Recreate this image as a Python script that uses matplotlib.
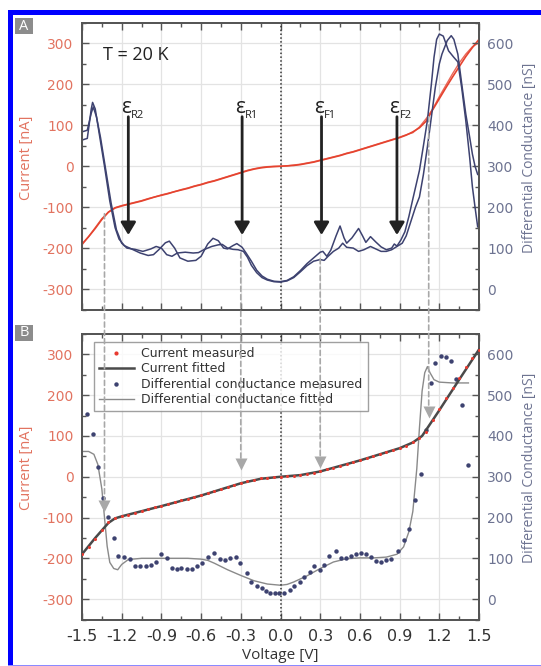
import matplotlib
matplotlib.use("Agg")
import matplotlib.pyplot as plt
from matplotlib.patches import Rectangle, ConnectionPatch
from matplotlib.lines import Line2D
from matplotlib.ticker import MultipleLocator, FixedLocator, FixedFormatter

# ---------------- data ----------------
volt = [-1.50, -1.45, -1.40, -1.35, -1.30, -1.25, -1.20, -1.15, -1.10, -1.05,
        -1.00, -0.95, -0.90, -0.85, -0.80, -0.75, -0.70, -0.65, -0.60, -0.55,
        -0.50, -0.45, -0.40, -0.35, -0.30, -0.25, -0.20, -0.15, -0.10, -0.05,
        0.00, 0.05, 0.10, 0.15, 0.20, 0.25, 0.30, 0.35, 0.40, 0.45,
        0.50, 0.55, 0.60, 0.65, 0.70, 0.75, 0.80, 0.85, 0.90, 0.95,
        1.00, 1.05, 1.10, 1.15, 1.20, 1.25, 1.30, 1.35, 1.40, 1.45, 1.50]
current_meas = [-190, -172, -152, -130, -112, -102, -97, -93, -89, -85,
                -80, -75, -71, -67, -62, -58, -54, -49, -45, -40,
                -36, -31, -26, -21, -16, -11, -7, -4, -2, -1,
                0, 1, 2, 4, 7, 10, 14, 18, 22, 26,
                31, 35, 40, 45, 50, 55, 60, 65, 70, 76,
                84, 94, 110, 138, 165, 192, 218, 243, 268, 290, 310]
current_sweep2 = [-192, -172, -150, -128, -112, -101, -96, -92, -88, -84,
                  -79, -75, -70, -66, -62, -57, -53, -48, -44, -39,
                  -35, -30, -25, -20, -15, -10, -6, -3, -1, 0,
                  0, 1, 3, 5, 8, 11, 15, 19, 23, 27,
                  32, 36, 41, 46, 51, 56, 61, 66, 71, 77,
                  82, 96, 116, 140, 170, 198, 226, 252, 274, 292, 302]

# conductance sweeps (panel A)
condA_v = [-1.49, -1.46, -1.43, -1.42, -1.40, -1.37, -1.33, -1.29, -1.25, -1.22,
           -1.18, -1.12, -1.06, -1.00, -0.96, -0.92, -0.87, -0.84, -0.80, -0.76,
           -0.70, -0.64, -0.60, -0.55, -0.51, -0.47, -0.43, -0.40, -0.36, -0.33,
           -0.29, -0.26, -0.22, -0.18, -0.14, -0.10, -0.05, 0.00, 0.05, 0.10,
           0.15, 0.20, 0.25, 0.30, 0.32, 0.35, 0.38, 0.42, 0.45, 0.48,
           0.50, 0.54, 0.59, 0.62, 0.645, 0.68, 0.72, 0.76, 0.80, 0.84,
           0.86, 0.88, 0.91, 0.94, 0.97, 1.00, 1.05, 1.08, 1.11, 1.14,
           1.16, 1.18, 1.20, 1.23, 1.25, 1.27, 1.31, 1.34, 1.37, 1.40,
           1.43, 1.45, 1.47, 1.49]
condA_g = [365, 368, 440, 456, 440, 380, 300, 215, 150, 122,
           106, 97, 88, 82, 84, 96, 113, 117, 100, 76,
           68, 70, 80, 110, 124, 118, 100, 98, 106, 111,
           102, 88, 68, 46, 32, 24, 19, 18, 21, 30,
           45, 62, 76, 90, 92, 80, 95, 130, 154, 125,
           112, 125, 148, 130, 114, 128, 115, 103, 96, 100,
           110, 105, 120, 140, 177, 220, 290, 350, 412, 500,
           566, 610, 623, 618, 600, 582, 566, 555, 490, 412,
           320, 250, 200, 152]
condB_v = [-1.49, -1.46, -1.43, -1.415, -1.39, -1.36, -1.32, -1.28, -1.24, -1.20,
           -1.16, -1.10, -1.04, -0.98, -0.94, -0.90, -0.86, -0.82, -0.78, -0.72,
           -0.66, -0.62, -0.58, -0.52, -0.47, -0.44, -0.40, -0.36, -0.32, -0.28,
           -0.25, -0.22, -0.18, -0.14, -0.10, -0.05, 0.00, 0.05, 0.10, 0.15,
           0.20, 0.25, 0.30, 0.33, 0.36, 0.40, 0.44, 0.47, 0.50, 0.55,
           0.59, 0.63, 0.68, 0.72, 0.76, 0.80, 0.84, 0.88, 0.92, 0.95,
           0.98, 1.02, 1.05, 1.08, 1.11, 1.14, 1.17, 1.20, 1.22, 1.26,
           1.29, 1.31, 1.34, 1.37, 1.40, 1.43, 1.45, 1.47, 1.49]
condB_g = [385, 388, 430, 445, 420, 370, 290, 210, 145, 112,
           100, 97, 92, 98, 104, 100, 84, 80, 88, 90,
           88, 89, 96, 104, 108, 109, 100, 97, 96, 92,
           78, 58, 40, 28, 22, 18, 17, 20, 28, 42,
           57, 68, 72, 70, 80, 92, 100, 112, 102, 100,
           92, 96, 104, 98, 92, 92, 96, 104, 112, 130,
           160, 200, 225, 280, 347, 420, 493, 550, 574, 607,
           619, 610, 574, 500, 428, 370, 330, 300, 280]

# panel B: measured conductance (dots) and fits
gmeas_v = [-1.46, -1.42, -1.38, -1.34, -1.305, -1.26, -1.225, -1.185, -1.14, -1.10,
           -1.06, -1.02, -0.98, -0.94, -0.90, -0.86, -0.82, -0.785, -0.75, -0.71,
           -0.67, -0.63, -0.595, -0.545, -0.50, -0.46, -0.42, -0.38, -0.34, -0.305,
           -0.255, -0.22, -0.18, -0.14, -0.11, -0.08, -0.045, -0.01, 0.03, 0.07,
           0.105, 0.145, 0.18, 0.22, 0.255, 0.295, 0.33, 0.37, 0.42, 0.455,
           0.495, 0.535, 0.57, 0.61, 0.645, 0.685, 0.72, 0.76, 0.795, 0.835,
           0.89, 0.935, 0.97, 1.015, 1.06, 1.10, 1.135, 1.17, 1.21, 1.25,
           1.285, 1.325, 1.375, 1.415]
gmeas_g = [455, 405, 323, 249, 201, 150, 106, 104, 99, 81,
           81, 80, 84, 91, 110, 100, 76, 74, 76, 74,
           75, 80, 89, 104, 112, 98, 96, 100, 103, 89,
           63, 41, 31, 27, 20, 16, 15, 15, 16, 23,
           33, 43, 55, 67, 80, 72, 84, 106, 119, 100,
           102, 106, 111, 114, 110, 104, 94, 91, 95, 98,
           119, 145, 173, 242, 307, 415, 531, 580, 597, 593,
           583, 540, 475, 328]
gfit_v = [-1.50, -1.45, -1.41, -1.38, -1.35, -1.33, -1.31, -1.29, -1.26, -1.23,
          -1.20, -1.15, -1.05, -0.90, -0.70, -0.60, -0.55, -0.50, -0.40, -0.30,
          -0.20, -0.10, 0.00, 0.05, 0.10, 0.20, 0.30, 0.40, 0.50, 0.60,
          0.70, 0.80, 0.88, 0.93, 0.97, 1.00, 1.03, 1.05, 1.07, 1.09,
          1.11, 1.13, 1.16, 1.20, 1.30, 1.42]
gfit_g = [362, 362, 355, 330, 270, 200, 130, 90, 75, 72,
          85, 97, 100, 100, 100, 98, 95, 88, 72, 58,
          45, 37, 34, 36, 42, 57, 75, 91, 99, 101,
          101, 103, 110, 128, 165, 215, 320, 420, 510, 555,
          570, 555, 538, 532, 530, 530]
ifit_v = [-1.50, -1.40, -1.30, -1.25, -1.20, -0.90, -0.60, -0.30, -0.15, 0.00,
          0.15, 0.30, 0.60, 0.90, 1.00, 1.07, 1.20, 1.35, 1.50]
ifit_i = [-190, -150, -113, -102, -97, -72, -46, -16, -5, 0,
          4, 13, 40, 70, 84, 100, 163, 238, 312]

# annotations
eps_v = [-1.15, -0.29, 0.31, 0.88]
eps_main = ["ε", "ε", "ε", "ε"]
eps_sub = ["R2", "R1", "F1", "F2"]
guide_v = [-1.33, -0.30, 0.30, 1.12]
guide_startA_I = [-116, -212, -226, 121]   # start point in panel A (current units)
guide_tipB_I = [-80, 24, 27, 150]          # arrow tip in panel B (current units)

xticks = [-1.5, -1.2, -0.9, -0.6, -0.3, 0.0, 0.3, 0.6, 0.9, 1.2, 1.5]
xticklabels = ["-1.5", "-1.2", "-0.9", "-0.6", "-0.3", "0.0", "0.3", "0.6", "0.9", "1.2", "1.5"]
yticksI = [-300, -200, -100, 0, 100, 200, 300]
yticklabelsI = ["-300", "-200", "-100", "0", "100", "200", "300"]
yticksG = [0, 100, 200, 300, 400, 500, 600]

# ---------------- style ----------------
RED = "#e5432f"
RED_TXT = "#e27360"
NAVY = "#3d4270"
BLUE_TXT = "#6d7391"
SPINE = "#555555"
GRID = "#e3e3e3"
GUIDE = "#a8a8a8"

plt.rcParams["font.family"] = ["DejaVu Sans"]
plt.rcParams["axes.unicode_minus"] = False

W, H = 541, 666
fig = plt.figure(figsize=(W / 100, H / 100), dpi=100)


def fx(px):
    return px / W


def fy(py):
    return 1 - py / H


axA = fig.add_axes([fx(82), fy(309.5), fx(479) - fx(82), fy(23) - fy(309.5)])
axB = fig.add_axes([fx(82), fy(619.5), fx(479) - fx(82), fy(334) - fy(619.5)])
axA2 = axA.twinx()
axB2 = axB.twinx()


def style(ax, ax2, show_x):
    ax.set_xlim(-1.5, 1.5)
    ax.set_ylim(-350, 350)
    ax2.set_ylim(-50, 650)
    ax.xaxis.set_major_locator(FixedLocator(xticks))
    ax.xaxis.set_minor_locator(MultipleLocator(0.15))
    ax.yaxis.set_major_locator(FixedLocator(yticksI))
    ax.yaxis.set_major_formatter(FixedFormatter(yticklabelsI))
    ax.yaxis.set_minor_locator(MultipleLocator(50))
    ax2.yaxis.set_major_locator(FixedLocator(yticksG))
    ax2.yaxis.set_minor_locator(MultipleLocator(50))
    if show_x:
        ax.xaxis.set_major_formatter(FixedFormatter(xticklabels))
    else:
        ax.set_xticklabels([])
    ax.grid(True, which="major", color=GRID, lw=0.9)
    ax.set_axisbelow(True)
    for a in (ax, ax2):
        for s in a.spines.values():
            s.set_color(SPINE)
            s.set_linewidth(1.3)
    ax.tick_params(which="both", direction="in", top=True, right=False,
                   color=SPINE, width=1.0)
    ax.tick_params(which="major", length=5)
    ax.tick_params(which="minor", length=3)
    ax.tick_params(axis="y", labelcolor=RED_TXT, labelsize=10, pad=6)
    ax.tick_params(axis="x", labelcolor="#333333", labelsize=11.5, pad=7)
    ax2.tick_params(which="both", direction="in", color=SPINE, width=1.0,
                    labelcolor=BLUE_TXT, labelsize=10, pad=6)
    ax2.tick_params(which="major", length=5)
    ax2.tick_params(which="minor", length=3)
    ax.axvline(0, color="#333333", lw=1.1, ls=(0, (1, 1.5)), zorder=1)
    ax.set_ylabel("Current [nA]", color=RED_TXT, fontsize=10.5, family="Open Sans")
    ax.yaxis.set_label_coords(-0.121, 0.53)
    ax2.set_ylabel("Differential Conductance [nS]", color=BLUE_TXT, fontsize=10,
                   family="Open Sans", rotation=90)
    ax2.yaxis.set_label_coords(1.108, 0.53)


style(axA, axA2, False)
style(axB, axB2, True)
axB.set_xlabel("Voltage [V]", fontsize=11, color="#333333", family="Open Sans", labelpad=3)

# ---- panel A ----
axA.plot(volt, current_meas, color=RED, lw=1.2, zorder=3)
axA.plot(volt, current_sweep2, color=RED, lw=1.0, alpha=0.8, zorder=3)
axA2.plot(condA_v, condA_g, color=NAVY, lw=1.1)
axA2.plot(condB_v, condB_g, color=NAVY, lw=1.1)
axA.text(-1.34, 272, "T = 20 K", fontsize=13, color="#222222", va="center",
         ha="left", family="Open Sans")
for v, m, s in zip(eps_v, eps_main, eps_sub):
    axA.annotate("", xy=(v, -168), xytext=(v, 121),
                 arrowprops=dict(arrowstyle="-|>,head_length=0.75,head_width=0.45",
                                 color="#222222", lw=2.0, shrinkA=0, shrinkB=0))
    axA.text(v + 0.02, 130, m, fontsize=15, ha="right", va="baseline", color="#222222",
             family="Open Sans")
    axA.text(v + 0.02, 117, s, fontsize=8, ha="left", va="baseline", color="#222222",
             family="Open Sans")

# ---- panel B ----
axB2.plot(gfit_v, gfit_g, color="#8a8a8a", lw=1.0, zorder=2)
axB2.plot(gmeas_v, gmeas_g, ls="", marker="o", ms=3.2, color=NAVY, mec="none", zorder=3)
axB.plot(ifit_v, ifit_i, color="#4a4a4a", lw=1.8, zorder=3)
axB.plot(volt, current_meas, ls="", marker="o", ms=2.2, color="#e83a30", mec="none", zorder=4)
axB.set_zorder(axB2.get_zorder() + 1)
axB.patch.set_visible(False)
axB2.patch.set_visible(True)
axB2.patch.set_facecolor("white")
axB.grid(False)
axB2.set_zorder(0)
axB2.grid(False)
for xv in xticks:
    axB2.axvline(xv, color=GRID, lw=0.9, zorder=0)
for yv in yticksG:
    axB2.axhline(yv, color=GRID, lw=0.9, zorder=0)

# guide arrows between panels
for v, s, t in zip(guide_v, guide_startA_I, guide_tipB_I):
    con = ConnectionPatch(xyA=(v, s), coordsA="data", axesA=axA,
                          xyB=(v, t + 14), coordsB="data", axesB=axB,
                          color=GUIDE, lw=1.2, ls=(0, (3, 2)), zorder=5)
    fig.add_artist(con)
    axB.plot([v], [t + 8], marker="v", ms=8, color=GUIDE, mec="none", zorder=6)

handles = [Line2D([], [], ls="", marker="o", ms=3, color="#e83a30", mec="none"),
           Line2D([], [], color="#4a4a4a", lw=1.8),
           Line2D([], [], ls="", marker="o", ms=3.2, color=NAVY, mec="none"),
           Line2D([], [], color="#8a8a8a", lw=1.0)]
labels = ["Current measured", "Current fitted",
          "Differential conductance measured", "Differential conductance fitted"]
leg = axB.legend(handles, labels, loc="upper left", bbox_to_anchor=(0.03, 0.972),
                 borderaxespad=0, fontsize=9, frameon=True, fancybox=False,
                 edgecolor="#888888", handlelength=2.8, handletextpad=0.6,
                 labelspacing=0.2, borderpad=0.4, labelcolor="#333333")
leg.get_frame().set_linewidth(1.0)
leg.set_zorder(10)

# panel letters
for letter, py in (("A", 18), ("B", 325)):
    fig.patches.append(Rectangle((fx(15), fy(py + 16)), fx(18), fy(py) - fy(py + 16),
                                 transform=fig.transFigure, facecolor="#8c8c8c",
                                 edgecolor="none"))
    fig.text(fx(24), fy(py + 8), letter, color="white", fontsize=10.5,
             ha="center", va="center", family="Open Sans")

# blue frame
fig.patches.append(Rectangle((fx(8), fy(666)), fx(5), fy(10) - fy(666),
                             transform=fig.transFigure, facecolor="#0000ff", edgecolor="none"))
fig.patches.append(Rectangle((fx(8), fy(15)), 1 - fx(8), fy(10) - fy(15),
                             transform=fig.transFigure, facecolor="#0000ff", edgecolor="none"))
fig.patches.append(Rectangle((fx(8), fy(666)), 1 - fx(8), fy(664.5) - fy(666),
                             transform=fig.transFigure, facecolor="#8a8aff", edgecolor="none"))

fig.savefig("out.png", dpi=100)
